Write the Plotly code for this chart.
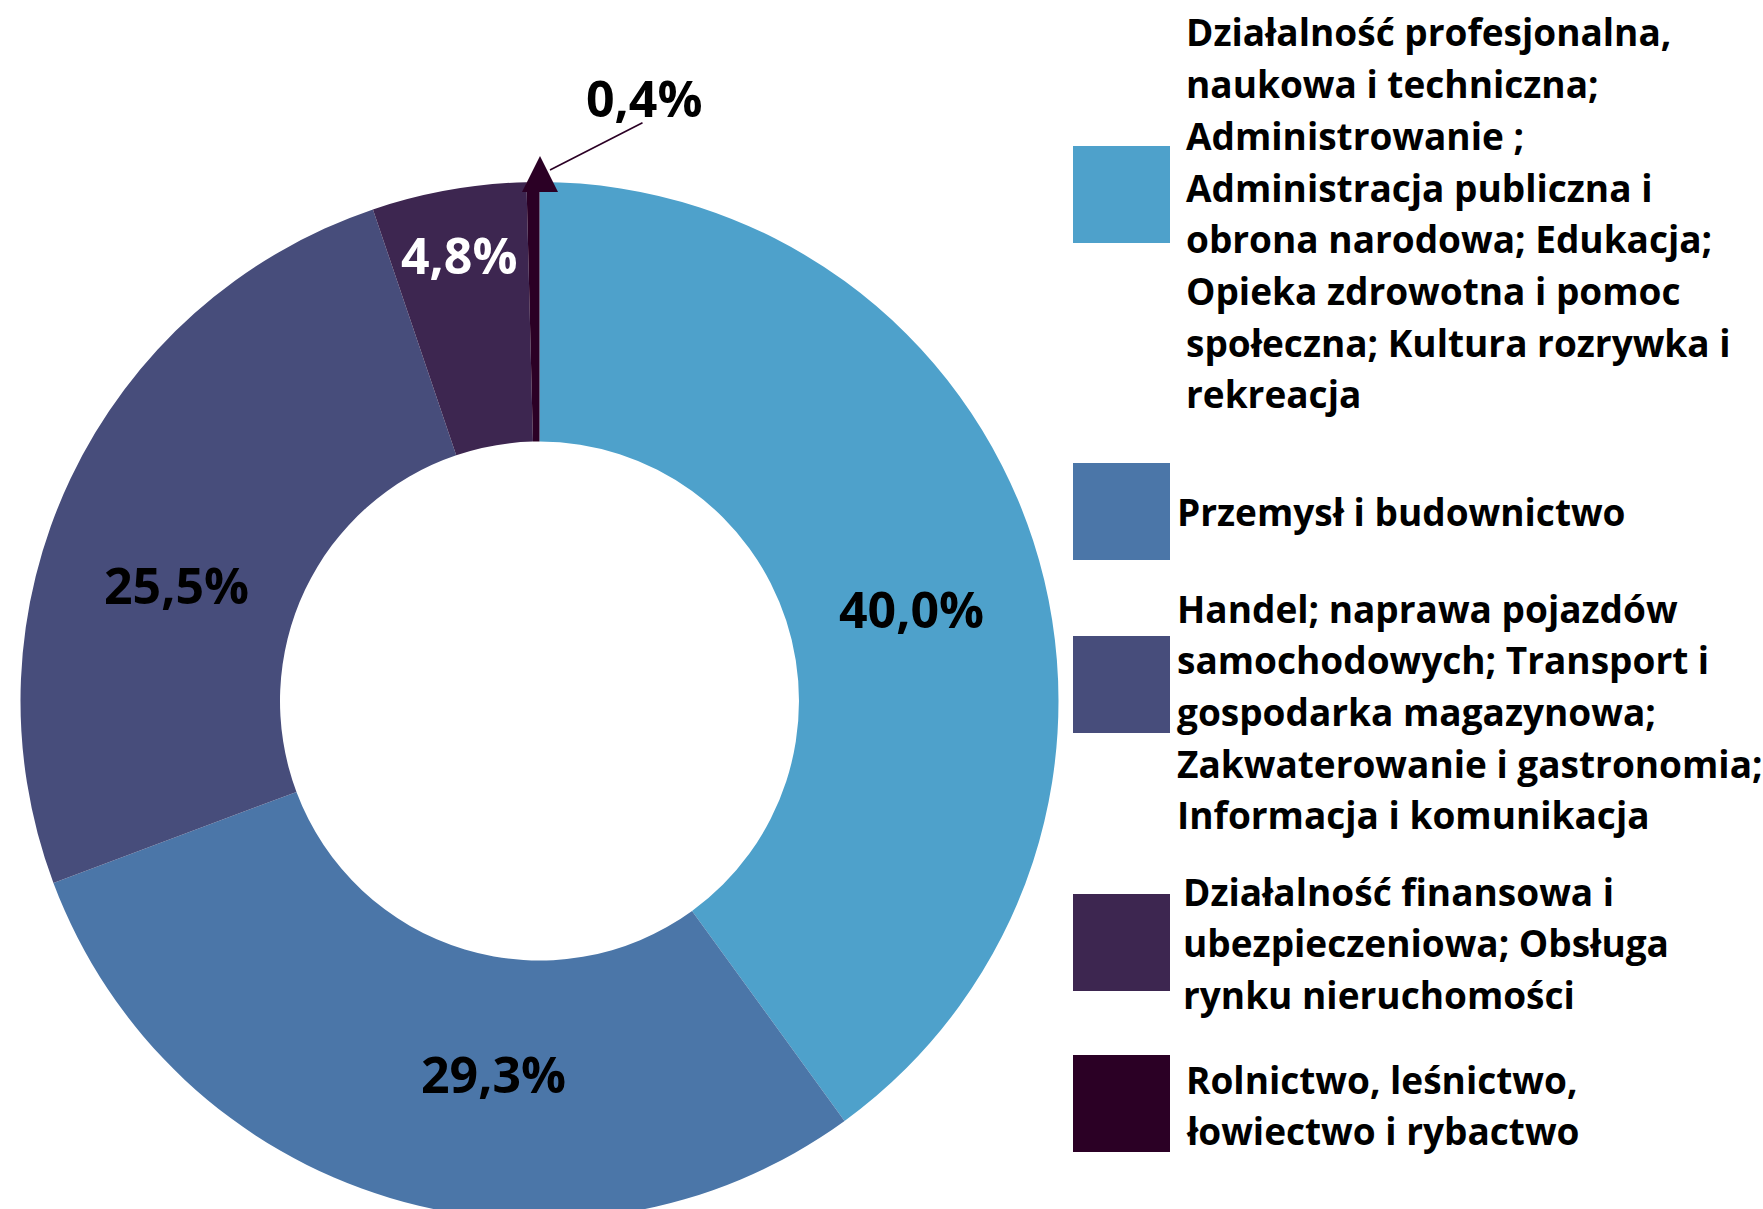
import plotly.graph_objects as go

# ---------------- data ----------------
categories = [
    "Działalność profesjonalna,\nnaukowa i techniczna;\nAdministrowanie ;\nAdministracja publiczna i\nobrona narodowa; Edukacja;\nOpieka zdrowotna i pomoc\nspołeczna; Kultura rozrywka i\nrekreacja",
    "Przemysł i budownictwo",
    "Handel; naprawa pojazdów\nsamochodowych; Transport i\ngospodarka magazynowa;\nZakwaterowanie i gastronomia;\nInformacja i komunikacja",
    "Działalność finansowa i\nubezpieczeniowa; Obsługa\nrynku nieruchomości",
    "Rolnictwo, leśnictwo,\nłowiectwo i rybactwo",
]
shares = [40.0, 29.3, 25.5, 4.8, 0.4]
colors = ["#4EA1CB", "#4B76A8", "#474D7B", "#3D2650", "#2B0025"]

pct_labels = [f"{v:.1f}".replace(".", ",") + "%" for v in shares]

# ---------------- layout geometry (pixels) ----------------
W, H = 1763, 1221
CX, CY, R = 539.5, 701.0, 519.0
FONT = "Open Sans"


def fx(px):
    return px / W


def fy(py):
    return 1 - py / H


fig = go.Figure()
fig.add_trace(go.Pie(
    labels=[c.replace("\n", " ") for c in categories],
    values=shares,
    sort=False,
    direction="clockwise",
    rotation=0,
    hole=0.5,
    marker=dict(colors=colors, line=dict(width=0)),
    textinfo="none",
    hoverinfo="label+percent",
    showlegend=False,
    domain=dict(x=[fx(CX - R), fx(CX + R)], y=[fy(CY + R), fy(CY - R)]),
))

annotations = []
shapes = []

# percentage labels inside the ring
label_pos = [(911.5, 609), (494, 1074), (176.5, 585), (459.3, 254.5)]
label_col = ["#000000", "#000000", "#000000", "#FFFFFF"]
for txt, (px, py), col in zip(pct_labels[:4], label_pos, label_col):
    annotations.append(dict(
        x=fx(px), y=fy(py), xref="paper", yref="paper", text=txt,
        showarrow=False, xanchor="center", yanchor="middle",
        font=dict(family=FONT, size=50, color=col, weight=700),
    ))

# small slice: outside label with leader line and arrow
annotations.append(dict(
    x=fx(644), y=fy(98), xref="paper", yref="paper", text=pct_labels[4],
    showarrow=False, xanchor="center", yanchor="middle",
    font=dict(family=FONT, size=50, color="#000000", weight=700),
))
annotations.append(dict(
    x=fx(550), y=fy(170), xref="paper", yref="paper", text="",
    showarrow=True, ax=94, ay=-48, arrowhead=0, arrowwidth=1.6,
    arrowcolor=colors[4],
))
annotations.append(dict(
    x=fx(540), y=fy(156), xref="paper", yref="paper", text="",
    showarrow=True, ax=0, ay=32, arrowhead=2, arrowwidth=2.4, arrowsize=3,
    arrowcolor=colors[4],
))

# custom legend
sq_top = [146, 463, 636, 894, 1055]
sq_size = 97
sq_x0 = 1073
text_x = [1184, 1175, 1175, 1181, 1184]
first_line_y = [32, 511.5, 608, 891, 1079]
line_step = 51.7
for i, cat in enumerate(categories):
    shapes.append(dict(
        type="rect", xref="paper", yref="paper",
        x0=fx(sq_x0), x1=fx(sq_x0 + sq_size),
        y0=fy(sq_top[i] + sq_size), y1=fy(sq_top[i]),
        fillcolor=colors[i], line=dict(width=0),
    ))
    for j, line in enumerate(cat.split("\n")):
        annotations.append(dict(
            x=fx(text_x[i]), y=fy(first_line_y[i] + j * line_step),
            xref="paper", yref="paper", text=line, showarrow=False,
            xanchor="left", yanchor="middle",
            font=dict(family=FONT, size=37, color="#000000", weight=700),
        ))

fig.update_layout(
    width=W, height=H,
    margin=dict(l=0, r=0, t=0, b=0, pad=0),
    paper_bgcolor="#FFFFFF", plot_bgcolor="#FFFFFF",
    annotations=annotations, shapes=shapes,
    showlegend=False,
)

fig.write_html(
    "out.html",
    config={"displayModeBar": False},
    post_script="document.documentElement.style.overflow='hidden';document.body.style.overflow='hidden';document.body.style.margin='0';",
)
